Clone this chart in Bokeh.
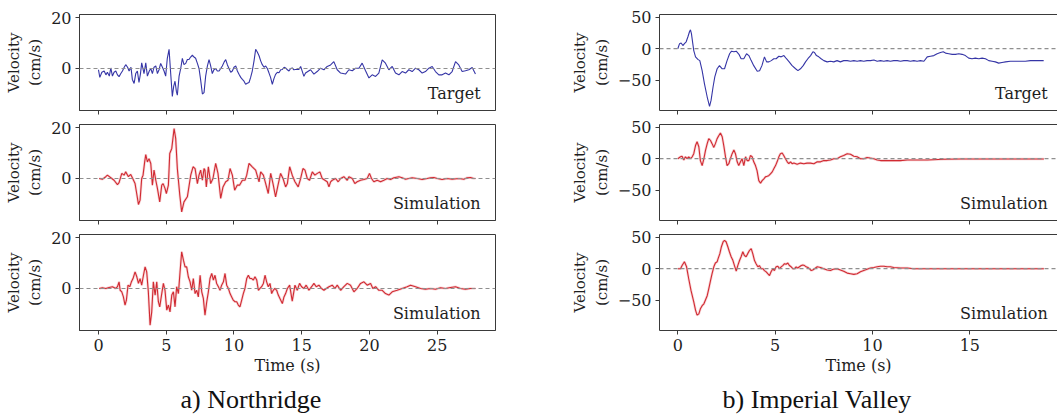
from bokeh.plotting import figure
from bokeh.layouts import row, column
from bokeh.models import Range1d, Span, Label, Title, FixedTicker, LinearAxis
from bokeh.embed import file_html
from bokeh.resources import INLINE

# ---------------- Northridge (a) ----------------
nr_target_t = [0.0, 0.1, 0.25, 0.42, 0.55, 0.66, 0.8, 0.91, 1.03, 1.15, 1.28, 1.4, 1.52, 1.65, 1.77, 1.9, 2.01, 2.15, 2.26, 2.4,
               2.5, 2.63, 2.75, 2.87, 2.99, 3.1, 3.19, 3.28, 3.36, 3.49, 3.61, 3.75, 3.86, 3.98, 4.1, 4.23, 4.35, 4.47, 4.59, 4.72,
               4.84, 4.96, 5.08, 5.21, 5.33, 5.45, 5.55, 5.65, 5.75, 5.82, 5.95, 6.07, 6.19, 6.31, 6.44, 6.56, 6.68, 6.8, 6.93, 7.05,
               7.17, 7.3, 7.42, 7.54, 7.67, 7.79, 7.91, 8.04, 8.16, 8.28, 8.4, 8.52, 8.65, 8.77, 8.9, 9.02, 9.14, 9.27, 9.39, 9.51,
               9.63, 9.76, 9.88, 10.0, 10.13, 10.25, 10.37, 10.5, 10.62, 10.74, 10.86, 10.98, 11.11, 11.23, 11.35, 11.48, 11.6, 11.72, 11.85, 11.97,
               12.09, 12.22, 12.34, 12.46, 12.58, 12.7, 12.83, 12.95, 13.07, 13.2, 13.32, 13.45, 13.57, 13.7, 13.81, 13.94, 14.06, 14.18, 14.3, 14.42,
               14.55, 14.79, 14.92, 15.16, 15.28, 15.65, 15.9, 16.14, 16.39, 16.64, 16.88, 17.13, 17.37, 17.62, 17.87, 18.23, 18.48, 18.73, 18.97, 19.22,
               19.46, 19.71, 19.96, 20.2, 20.45, 20.69, 20.94, 21.18, 21.43, 21.68, 21.92, 22.17, 22.41, 22.66, 22.9, 23.15, 23.4, 23.64, 23.89, 24.13,
               24.38, 24.63, 24.87, 25.12, 25.36, 25.61, 25.86, 26.1, 26.35, 26.59, 26.84, 27.08, 27.33, 27.58, 27.82]
nr_target_v = [-0.5, -3.5, -1.5, -1.0, -2.5, -1.5, -3.0, 0.2, -3.0, -1.5, -1.0, -2.5, -3.2, -2.0, -1.0, 0.5, 1.5, 0.5, -1.0, 0.5,
               -4.3, -5.9, -2.0, -1.0, -5.5, -2.0, 2.2, 0.0, -2.0, 2.2, -3.0, -1.0, 0.0, -2.0, 0.5, 1.0, -2.0, -0.5, 2.0, 0.5,
               -1.0, -3.0, 4.0, 7.5, -2.0, -11.0, -7.0, -5.0, -9.0, -10.5, -3.0, 0.0, 4.0, 1.5, 2.0, 3.5, 3.5, 4.5, 5.2, 4.5,
               4.0, 2.0, 0.0, -4.5, -10.0, -9.5, -3.0, 1.0, 3.5, 1.0, -2.0, -0.5, 0.0, -1.0, -1.0, 0.0, 1.0, 2.5, 3.5, 1.5,
               0.0, -1.5, -1.0, 0.5, 1.0, -1.0, -2.3, -3.5, -4.3, -5.0, -6.2, -5.8, -5.5, -3.5, -1.0, 3.0, 7.5, 6.5, 5.0, 3.0,
               1.5, 0.5, 1.0, 0.0, -1.7, -3.5, -6.2, -4.0, -2.3, -1.5, -1.7, -0.5, -0.4, 0.5, 0.2, -0.5, -1.0, 0.0, 0.2, -0.5,
               -0.4, -0.4, 0.8, -3.1, -1.8, -0.5, -2.2, -1.2, 0.1, -0.5, 0.8, 1.4, 2.7, -0.5, -1.8, -2.2, -0.5, -0.9, 0.1, 0.1,
               2.1, -0.9, -3.7, -2.5, -3.1, -1.8, 3.4, 2.1, -0.5, 0.8, -1.8, -2.5, -1.2, -1.8, -0.5, -1.2, 0.1, -0.5, -1.8, -1.2,
               0.1, 0.8, -1.2, -2.5, -2.5, -1.8, -2.5, -1.2, 2.7, 1.4, -1.2, -0.9, -0.5, 0.4, -2.2]

nr_sim1_t = [0.05, 0.29, 0.54, 0.66, 0.91, 1.15, 1.4, 1.52, 1.72, 1.89, 2.01, 2.21, 2.38, 2.5, 2.7, 2.8, 2.95, 3.07, 3.19, 3.29,
             3.41, 3.49, 3.61, 3.73, 3.86, 3.98, 4.1, 4.23, 4.35, 4.52, 4.67, 4.77, 4.91, 5.01, 5.16, 5.26, 5.41, 5.58, 5.7, 5.82,
             6.0, 6.14, 6.31, 6.56, 6.81, 6.98, 7.13, 7.3, 7.42, 7.54, 7.67, 7.79, 7.86, 7.96, 8.11, 8.28, 8.45, 8.65, 8.82, 9.02,
             9.19, 9.39, 9.56, 9.71, 9.88, 10.05, 10.25, 10.42, 10.62, 10.81, 10.94, 11.11, 11.35, 11.6, 11.85, 11.97, 12.17, 12.34, 12.53, 12.71,
             12.88, 13.07, 13.25, 13.44, 13.62, 13.81, 13.94, 14.11, 14.3, 14.5, 14.74, 14.92, 15.09, 15.24, 15.41, 15.58, 15.78, 15.97, 16.15, 16.34,
             16.51, 16.71, 16.88, 17.01, 17.13, 17.25, 17.5, 17.69, 17.87, 18.11, 18.36, 18.48, 18.73, 18.92, 19.09, 19.34, 19.59, 19.83, 20.0, 20.15,
             20.32, 20.57, 20.82, 21.06, 21.31, 21.55, 21.8, 22.17, 22.41, 22.66, 22.9, 23.15, 23.52, 23.89, 24.26, 24.5, 24.75, 25.0, 25.36, 25.73,
             26.1, 26.59, 26.96, 27.21, 27.45, 27.7, 27.82]
nr_sim1_v = [0.0, -0.3, 0.7, 1.3, 0.3, -0.7, -2.4, -1.6, 2.0, 1.3, 2.6, 0.7, 1.6, 0.3, -2.0, -5.2, -10.2, -8.5, 0.0, 1.3,
             6.5, 9.4, 6.5, 7.8, 5.9, -2.6, 3.3, -0.7, -3.9, -9.2, -2.6, -2.0, -3.9, -5.9, -2.6, 9.8, 11.8, 19.6, 15.7, 3.9,
             -6.5, -13.1, -9.2, -7.2, 1.3, 4.6, 3.9, -2.0, 1.3, 3.3, -0.7, 3.9, 3.3, -3.3, 4.6, -2.0, 0.0, 5.9, 2.0, -7.8,
             -3.3, -1.3, -0.7, 3.9, 1.3, -4.6, -2.6, -2.6, -0.7, -0.7, 1.3, 5.9, 4.6, 3.3, -1.3, 2.6, 1.3, -2.0, -5.9, 2.0,
             -2.0, -7.2, -2.6, 2.0, 0.0, -3.3, -2.0, 4.6, 1.3, -1.3, -3.3, 0.0, 3.9, 3.3, 0.0, -0.7, 2.6, 1.3, 2.0, 2.6,
             0.0, -0.7, -1.3, -3.3, -1.3, -0.7, 0.0, -1.3, 0.0, 0.7, -0.7, 0.7, 0.0, -2.0, -1.3, -0.7, -0.4, 0.0, 2.0, 0.0,
             -1.3, -0.7, -1.3, -0.7, 0.0, -0.4, 0.3, 0.7, 0.3, -0.3, 0.0, 0.3, 0.0, -0.4, 0.0, 0.3, 0.4, 0.0, -0.4, 0.0,
             -0.3, 0.0, -0.3, 0.3, 0.4, 0.0, 0.0]

nr_sim2_t = [0.05, 0.29, 0.54, 0.78, 1.03, 1.28, 1.4, 1.52, 1.6, 1.72, 1.84, 1.96, 2.06, 2.18, 2.31, 2.43, 2.55, 2.7, 2.83, 2.95,
             3.07, 3.19, 3.32, 3.44, 3.56, 3.68, 3.81, 3.93, 4.05, 4.18, 4.3, 4.42, 4.52, 4.67, 4.79, 4.91, 5.04, 5.16, 5.28, 5.41,
             5.53, 5.65, 5.77, 5.9, 6.02, 6.14, 6.27, 6.39, 6.51, 6.63, 6.76, 6.88, 7.0, 7.13, 7.25, 7.37, 7.5, 7.62, 7.74, 7.86,
             7.99, 8.11, 8.23, 8.36, 8.48, 8.6, 8.72, 8.85, 8.97, 9.09, 9.22, 9.34, 9.46, 9.59, 9.71, 9.83, 9.95, 10.08, 10.2, 10.32,
             10.44, 10.57, 10.69, 10.81, 10.94, 11.06, 11.18, 11.31, 11.43, 11.55, 11.68, 11.8, 11.92, 12.04, 12.17, 12.29, 12.41, 12.53, 12.66, 12.78,
             12.9, 13.02, 13.15, 13.27, 13.39, 13.57, 13.69, 13.81, 13.94, 14.11, 14.3, 14.5, 14.67, 14.84, 14.99, 15.16, 15.33, 15.53, 15.73, 15.9,
             16.07, 16.27, 16.46, 16.64, 16.81, 17.01, 17.25, 17.45, 17.62, 17.87, 18.11, 18.36, 18.6, 18.85, 19.09, 19.34, 19.59, 19.83, 20.08, 20.25,
             20.45, 20.69, 20.94, 21.18, 21.43, 21.68, 22.04, 22.41, 22.78, 23.03, 23.4, 23.76, 24.13, 24.5, 24.87, 25.24, 25.61, 25.98, 26.35, 26.71,
             27.08, 27.45, 27.82]
nr_sim2_v = [0.0, 0.3, 0.0, 0.4, 0.7, 0.0, 0.7, 2.6, -0.7, -1.3, -3.3, -6.5, -4.6, 1.3, 0.7, 2.6, 3.9, 6.5, 4.6, 2.0,
             3.9, 1.3, 5.2, 8.5, 6.5, -1.3, -14.4, -9.2, 2.6, -2.6, 2.6, -5.2, -7.2, -2.0, 2.0, -0.7, -8.5, -6.5, -9.2, -2.6,
             -1.3, -7.2, 0.7, -2.0, 6.5, 14.4, 11.1, 8.5, 8.5, 4.6, 2.6, -0.7, 3.9, -2.0, -0.7, -3.3, 5.2, -1.3, -3.9, -10.5,
             -5.2, -1.3, 3.9, 5.9, 3.3, 5.2, 2.0, 0.7, -0.7, 1.3, 2.6, 5.9, 1.3, 0.0, -2.0, -3.3, -4.6, -5.2, -5.2, -6.5,
             -7.2, -4.6, -2.0, 0.0, 3.9, 5.2, 3.9, 3.9, 3.3, 4.6, 3.3, -0.7, 0.0, 0.7, 2.0, 5.2, 2.6, 0.7, 2.0, -2.0,
             -0.7, 0.0, -0.7, -2.6, -3.9, -5.9, -3.3, -2.0, 0.0, 1.3, -5.0, 1.3, -0.7, 2.0, 0.7, 0.0, 1.3, -0.7, 0.7, 2.0,
             0.7, 1.3, 0.0, -0.7, 0.0, 0.7, 1.3, 0.0, 1.3, -0.7, 0.7, 2.0, 1.3, -1.3, 0.0, 2.0, 2.6, 1.3, 2.0, 0.0,
             0.7, -0.7, -0.7, -2.0, -2.6, -1.3, -0.7, 0.0, 0.7, 1.3, 0.7, 0.0, -0.3, 0.0, -0.3, 0.3, 0.0, 0.4, 0.7, 0.0,
             -0.3, 0.0, 0.0]

nr_x_ticks = [0, 5, 10, 15, 20, 25]
nr_y_ticks = [0, 20]

# ---------------- Imperial Valley (b) ----------------
iv_target_t = [0.0, 0.09, 0.17, 0.26, 0.34, 0.43, 0.52, 0.6, 0.65, 0.7, 0.77, 0.82, 0.91, 1.03, 1.13, 1.25, 1.37, 1.51, 1.63, 1.71,
               1.81, 1.9, 2.02, 2.14, 2.28, 2.4, 2.53, 2.66, 2.76, 2.88, 3.0, 3.14, 3.25, 3.39, 3.53, 3.65, 3.77, 3.9, 4.08, 4.2,
               4.32, 4.45, 4.56, 4.68, 4.8, 4.93, 5.05, 5.19, 5.31, 5.45, 5.58, 5.72, 5.87, 6.05, 6.17, 6.3, 6.44, 6.56, 6.68, 6.82,
               6.94, 7.02, 7.12, 7.24, 7.36, 7.5, 7.67, 7.84, 8.01, 8.18, 8.35, 8.52, 8.7, 8.87, 9.04, 9.21, 9.38, 9.55, 9.72, 9.9,
               10.07, 10.24, 10.41, 10.58, 10.75, 10.92, 11.09, 11.27, 11.44, 11.61, 11.78, 11.95, 12.12, 12.29, 12.46, 12.64, 12.81, 12.98, 13.15, 13.32,
               13.49, 13.63, 13.75, 13.92, 14.09, 14.26, 14.43, 14.6, 14.77, 14.94, 15.11, 15.28, 15.46, 15.63, 15.8, 15.97, 16.14, 16.31, 16.48, 16.65,
               16.83, 17.08, 17.34, 17.6, 17.85, 18.11, 18.37, 18.62, 18.79]
iv_target_v = [0, 8, 9, 5, 8, 11, 19, 27, 30, 24, 8, -3, -13, -17, -19, -35, -56, -77, -92, -82,
               -61, -45, -32, -27, -32, -32, -19, -8, -4, -5, -4, -9, -16, -16, -8, -11, -19, -27, -36, -35,
               -27, -13, -21, -21, -19, -16, -16, -12, -13, -11, -16, -21, -27, -32, -35, -32, -27, -21, -16, -11,
               -5, -6, -11, -13, -16, -19, -21, -20, -21, -19, -21, -19, -19, -20, -19, -20, -19, -20, -19, -19,
               -18, -20, -19, -20, -19, -20, -19, -19, -20, -19, -19, -20, -19, -20, -19, -20, -13, -12, -11, -8,
               -6, -5, -7, -8, -9, -9, -8, -9, -11, -15, -16, -15, -16, -15, -16, -19, -20, -21, -23, -22,
               -21, -20, -20, -20, -20, -19, -19, -19, -19]

iv_sim1_t = [0.0, 0.14, 0.22, 0.31, 0.39, 0.48, 0.56, 0.65, 0.74, 0.82, 0.91, 0.99, 1.08, 1.16, 1.25, 1.34, 1.42, 1.51, 1.59, 1.68,
             1.76, 1.85, 1.93, 2.02, 2.11, 2.19, 2.28, 2.36, 2.45, 2.53, 2.62, 2.7, 2.79, 2.88, 2.96, 3.05, 3.13, 3.22, 3.3, 3.39,
             3.48, 3.56, 3.65, 3.73, 3.82, 3.9, 3.99, 4.07, 4.16, 4.25, 4.33, 4.42, 4.5, 4.59, 4.67, 4.76, 4.85, 4.93, 5.02, 5.1,
             5.19, 5.27, 5.36, 5.44, 5.53, 5.62, 5.7, 5.79, 5.87, 5.96, 6.13, 6.3, 6.47, 6.64, 6.81, 6.99, 7.16, 7.33, 7.5, 7.67,
             7.84, 8.01, 8.18, 8.35, 8.52, 8.7, 8.87, 9.04, 9.21, 9.38, 9.55, 9.72, 9.89, 10.07, 10.24, 10.41, 10.75, 11.09, 11.44, 11.78,
             12.12, 12.46, 12.81, 13.66, 14.52, 15.37, 16.23, 17.09, 17.94, 18.8]
iv_sim1_v = [0, 3, 4, -2, 3, 0, 3, 0, 3, 8, 21, 27, 19, -3, -11, 0, 13, 24, 32, 29,
             24, 18, 24, 32, 37, 41, 35, 21, 3, -11, -8, 0, 8, 14, 8, -5, -11, -5, 0, -11,
             3, -3, -3, 5, 3, -5, -11, -19, -35, -39, -35, -32, -29, -28, -27, -24, -21, -16, -11, -5,
             3, 8, 9, 5, 0, -5, -8, -5, -8, -7, -9, -7, -8, -7, -7, -8, -5, -5, -3, -3,
             -2, 0, 0, 3, 5, 8, 7, 4, 3, 0, 0, 2, 1, 0, -2, -3, -3, -3, -3, -2,
             -2, -2, -2, -1, -0.5, -0.5, -0.5, -0.5, -0.5, -0.5]

iv_sim2_t = [0.0, 0.14, 0.22, 0.34, 0.45, 0.56, 0.68, 0.82, 0.91, 0.99, 1.08, 1.16, 1.25, 1.34, 1.42, 1.51, 1.59, 1.68, 1.76, 1.85,
             1.93, 2.02, 2.07, 2.16, 2.24, 2.33, 2.4, 2.48, 2.57, 2.65, 2.74, 2.82, 2.91, 3.0, 3.08, 3.17, 3.25, 3.34, 3.42, 3.51,
             3.59, 3.68, 3.77, 3.85, 3.94, 4.02, 4.11, 4.19, 4.28, 4.37, 4.45, 4.54, 4.62, 4.71, 4.79, 4.88, 4.96, 5.05, 5.14, 5.22,
             5.31, 5.39, 5.48, 5.56, 5.65, 5.73, 5.82, 5.91, 5.99, 6.08, 6.16, 6.25, 6.34, 6.42, 6.51, 6.59, 6.68, 6.76, 6.85, 6.93,
             7.02, 7.16, 7.33, 7.5, 7.67, 7.84, 7.98, 8.18, 8.35, 8.52, 8.7, 8.87, 9.04, 9.21, 9.38, 9.55, 9.72, 9.89, 10.07, 10.24,
             10.41, 10.58, 10.75, 10.92, 11.09, 11.44, 11.78, 12.12, 12.81, 14.52, 16.23, 17.94, 18.8]
iv_sim2_v = [0, 0, 5, 11, 3, -16, -35, -53, -66, -74, -72, -64, -59, -56, -50, -43, -32, -19, -8, 3,
             9, 11, 16, 24, 35, 43, 45, 43, 35, 27, 19, 14, 5, -4, 5, 13, 19, 27, 21, 19,
             24, 29, 32, 24, 13, 8, 3, 5, 0, 0, -3, -5, -8, -11, -5, 0, -3, 3, 4, 0,
             3, 5, 8, 7, 9, 5, 3, 0, 0, 3, 1, 3, 5, 6, 5, 3, 2, 0, -3, -2,
             0, 3, 2, 0, -2, -3, -1, 0, -2, -4, -7, -8, -9, -8, -5, -3, -1, 1, 2, 3,
             4, 4, 3, 3, 2, 1, 1, 0, 0, 0, 0, 0, 0]

iv_x_ticks = [0, 5, 10, 15]
iv_y_ticks = [-50, 0, 50]

SERIF = "DejaVu Serif"
INK = "#1e1e1e"
FRAME = "#3a3a3a"
TARGET_COLOR = "#3535a6"
SIM_COLOR = "#d02a32"
SIM_HALO = "#f0a0a5"
FS = "16px"


def style_axis(ax):
    ax.axis_line_color = FRAME
    ax.axis_line_width = 1
    ax.major_tick_line_color = FRAME
    ax.major_tick_out = 4
    ax.major_tick_in = 0
    ax.minor_tick_line_color = None
    ax.major_label_text_font = SERIF
    ax.major_label_text_font_size = FS
    ax.major_label_text_color = INK
    ax.axis_label_text_font = SERIF
    ax.axis_label_text_font_size = FS
    ax.axis_label_text_font_style = "normal"
    ax.axis_label_text_color = INK


def make_panel(t, v, kind, xr, yr, xticks, yticks, fw, border_l, border_r, label_x, label_y,
               first=False, last=False, caption=None, caption_offset=0, open_right=False):
    p = figure(frame_width=fw, frame_height=96,
               x_range=Range1d(*xr), y_range=Range1d(*yr),
               output_backend="svg", toolbar_location=None,
               min_border_left=border_l, min_border_right=border_r,
               min_border_top=(14 if first else 6), min_border_bottom=(84 if last else 8))
    p.background_fill_color = "white"
    p.border_fill_color = "white"
    p.xgrid.visible = False
    p.ygrid.visible = False

    xax = p.below[0]
    yax = p.left[0]
    style_axis(xax)
    style_axis(yax)

    yax.ticker = FixedTicker(ticks=yticks)
    yax.axis_label = "Velocity\n(cm/s)"
    yax.axis_label_text_font_size = "15px"
    yax.axis_label_standoff = 4
    yax.major_label_standoff = 4

    if last:
        xax.ticker = FixedTicker(ticks=xticks)
        xax.axis_label = "Time (s)"
        xax.axis_label_standoff = 2
        xax.major_label_standoff = 4
    else:
        # tick marks only, no tick labels (shared time axis)
        xax.ticker = FixedTicker(ticks=[], minor_ticks=xticks)
        xax.minor_tick_line_color = FRAME
        xax.minor_tick_out = 4
        xax.minor_tick_in = 0
        xax.major_label_standoff = 0

    if open_right:
        p.outline_line_color = None
        top = LinearAxis(ticker=FixedTicker(ticks=[]), major_tick_out=0, major_tick_in=0,
                         minor_tick_out=0, minor_tick_in=0, minor_tick_line_color=None,
                         axis_line_color=FRAME, axis_line_width=1, major_label_standoff=0)
        p.add_layout(top, "above")
    else:
        p.outline_line_color = FRAME
        p.outline_line_width = 1
        p.outline_line_alpha = 1.0

    p.add_layout(Span(location=0, dimension="width", line_color="#8f8f8f",
                      line_dash="4 3", line_width=1.2))
    if kind == "Target":
        p.line(t, v, line_color=TARGET_COLOR, line_width=1.1)
    else:
        p.line(t, v, line_color=SIM_HALO, line_width=2.6, line_alpha=0.45)
        p.line(t, v, line_color=SIM_COLOR, line_width=1.1)

    p.add_layout(Label(x=label_x, y=label_y, text=kind, text_align="right",
                       text_baseline="alphabetic", text_font=SERIF,
                       text_font_size=FS, text_color=INK))
    if caption:
        p.add_layout(Title(text=caption, align="left", offset=caption_offset,
                           text_font="Liberation Serif", text_font_size="26px",
                           text_font_style="normal", text_color="#111111",
                           standoff=10), "below")
    return p


L_X = (-1.4, 29.3)
L_Y = (-16.5, 21.2)
R_X = (-0.94, 19.5)
R_Y = (-98.5, 54.5)

l1 = make_panel(nr_target_t, nr_target_v, "Target", L_X, L_Y, nr_x_ticks, nr_y_ticks, 416, 79, 65, 28.2, -9.8,
                first=True)
l2 = make_panel(nr_sim1_t, nr_sim1_v, "Simulation", L_X, L_Y, nr_x_ticks, nr_y_ticks, 416, 79, 65, 28.2, -9.8)
l3 = make_panel(nr_sim2_t, nr_sim2_v, "Simulation", L_X, L_Y, nr_x_ticks, nr_y_ticks, 416, 79, 65, 28.2, -9.8,
                last=True, caption="a) Northridge", caption_offset=101)

r1 = make_panel(iv_target_t, iv_target_v, "Target", R_X, R_Y, iv_x_ticks, iv_y_ticks, 398, 99, 0, 19.0, -71,
                first=True, open_right=True)
r2 = make_panel(iv_sim1_t, iv_sim1_v, "Simulation", R_X, R_Y, iv_x_ticks, iv_y_ticks, 398, 99, 0, 19.0, -71,
                open_right=True)
r3 = make_panel(iv_sim2_t, iv_sim2_v, "Simulation", R_X, R_Y, iv_x_ticks, iv_y_ticks, 398, 99, 0, 19.0, -71,
                last=True, caption="b) Imperial Valley", caption_offset=63, open_right=True)

layout = row(column(l1, l2, l3), column(r1, r2, r3))

open("out.html", "w").write(file_html(layout, INLINE))
